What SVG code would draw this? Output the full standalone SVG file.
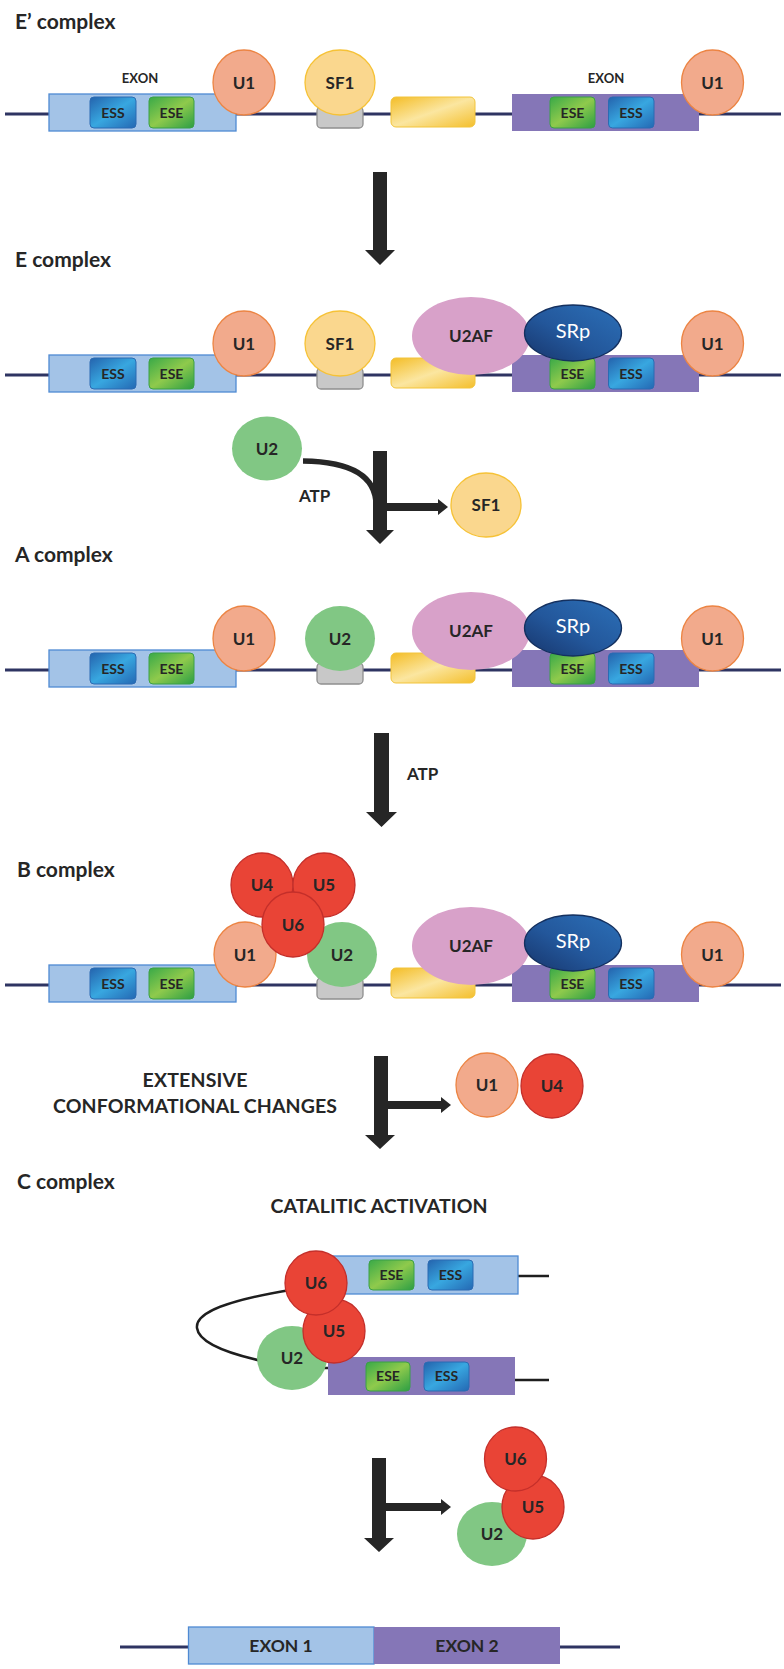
<svg xmlns="http://www.w3.org/2000/svg" width="784" height="1669" viewBox="0 0 784 1669">
<defs>
<linearGradient id="gEss" x1="0" y1="0" x2="1" y2="1">
<stop offset="0" stop-color="#2463ad"/><stop offset="0.5" stop-color="#38a7e0"/><stop offset="1" stop-color="#2468b3"/>
</linearGradient>
<linearGradient id="gEse" x1="0" y1="0" x2="1" y2="1">
<stop offset="0" stop-color="#39a948"/><stop offset="0.5" stop-color="#8fca4c"/><stop offset="1" stop-color="#2c9e44"/>
</linearGradient>
<linearGradient id="gYel" x1="0" y1="0" x2="1" y2="1">
<stop offset="0" stop-color="#f4bd26"/><stop offset="0.5" stop-color="#fbe6a0"/><stop offset="1" stop-color="#f4bf2c"/>
</linearGradient>
<linearGradient id="gSrp" x1="1" y1="0" x2="0" y2="1">
<stop offset="0" stop-color="#2c70b8"/><stop offset="0.55" stop-color="#23579b"/><stop offset="1" stop-color="#17356b"/>
</linearGradient>
<style>
.dna{stroke:#2e3462;stroke-width:3;fill:none}
.rna{stroke:#1e1e1e;stroke-width:2.5;fill:none}
.exonL{fill:#a3c3e7;stroke:#4f8ad3;stroke-width:1.3}
.exonR{fill:#8576b7}
.ess{fill:url(#gEss);stroke:#2b6bb3;stroke-width:1}
.ese{fill:url(#gEse);stroke:#3aa046;stroke-width:1}
.u1{fill:#f2aa8c;stroke:#ec8443;stroke-width:1.3}
.sf1{fill:#fad78e;stroke:#f6c236;stroke-width:1.3}
.gray{fill:#c8c8c8;stroke:#8f8f8f;stroke-width:1.3}
.yel{fill:url(#gYel);stroke:#f2c43c;stroke-width:1}
.u2{fill:#81c784}
.red{fill:#e94436;stroke:#c42f2a;stroke-width:1.3}
.u2af{fill:#d8a1c9}
.srp{fill:url(#gSrp);stroke:#14305f;stroke-width:1.3}
.arrow{fill:#262626}
.curve{stroke:#262626;stroke-width:5.5;fill:none}
text{font-family:Lato,"Liberation Sans",sans-serif;fill:#262626;font-weight:bold}
.title{font-size:21px}
.node{font-size:17px;text-anchor:middle}
.box{font-size:14px;text-anchor:middle}
.exlab{font-size:13px;text-anchor:middle}
.srpt{font-size:20px;text-anchor:middle;fill:#ffffff;font-weight:normal}
.lab{font-size:17px}
.big{font-size:19.5px;text-anchor:middle}
.fin{font-size:17.5px;text-anchor:middle}
</style>
</defs>
<rect width="784" height="1669" fill="#ffffff"/>

<!-- Titles -->
<g id="titles">
<text class="title" x="15" y="29">E’ complex</text>
<text class="title" x="15" y="267">E complex</text>
<text class="title" x="15" y="562">A complex</text>
<text class="title" x="17" y="877">B complex</text>
<text class="title" x="17" y="1189">C complex</text>
</g>

<!-- ROW 1: E' complex -->
<g id="row1">
<path class="dna" d="M5,114 H781"/>
<g id="r1-exon-left">
<rect class="exonL" x="49" y="94" width="187" height="37"/>
<rect class="ess" x="90" y="97" width="46" height="31" rx="4"/><text class="box" x="113" y="117.5">ESS</text>
<rect class="ese" x="149" y="97" width="45" height="31" rx="4"/><text class="box" x="171.5" y="117.5">ESE</text>
<text class="exlab" x="140" y="83">EXON</text>
</g>
<g id="r1-branch"><rect class="gray" x="317" y="107" width="46" height="21" rx="4"/></g>
<g id="r1-sf1"><ellipse class="sf1" cx="340" cy="82.5" rx="35" ry="32.5"/><text class="node" x="340" y="88.5">SF1</text></g>
<g id="r1-ppt"><rect class="yel" x="391" y="97" width="84" height="30" rx="5"/></g>
<g id="r1-exon-right">
<rect class="exonR" x="512" y="94" width="187" height="37"/>
<rect class="ese" x="550" y="97" width="45" height="31" rx="4"/><text class="box" x="572.5" y="117.5">ESE</text>
<rect class="ess" x="608.5" y="97" width="45.5" height="31" rx="4"/><text class="box" x="631" y="117.5">ESS</text>
<text class="exlab" x="606" y="83">EXON</text>
</g>
<g id="r1-u1-left"><ellipse class="u1" cx="244" cy="82.5" rx="31" ry="32.5"/><text class="node" x="244" y="88.5">U1</text></g>
<g id="r1-u1-right"><ellipse class="u1" cx="712.5" cy="82.5" rx="31" ry="32.5"/><text class="node" x="712.5" y="88.5">U1</text></g>
</g>

<!-- ROW 2: E complex -->
<g id="row2" transform="translate(0,261)">
<path class="dna" d="M5,114 H781"/>
<g id="r2-exon-left">
<rect class="exonL" x="49" y="94" width="187" height="37"/>
<rect class="ess" x="90" y="97" width="46" height="31" rx="4"/><text class="box" x="113" y="117.5">ESS</text>
<rect class="ese" x="149" y="97" width="45" height="31" rx="4"/><text class="box" x="171.5" y="117.5">ESE</text>
</g>
<g id="r2-branch"><rect class="gray" x="317" y="107" width="46" height="21" rx="4"/></g>
<g id="r2-sf1"><ellipse class="sf1" cx="340" cy="82.5" rx="35" ry="32.5"/><text class="node" x="340" y="88.5">SF1</text></g>
<g id="r2-ppt"><rect class="yel" x="391" y="97" width="84" height="30" rx="5"/></g>
<g id="r2-exon-right">
<rect class="exonR" x="512" y="94" width="187" height="37"/>
<rect class="ese" x="550" y="97" width="45" height="31" rx="4"/><text class="box" x="572.5" y="117.5">ESE</text>
<rect class="ess" x="608.5" y="97" width="45.5" height="31" rx="4"/><text class="box" x="631" y="117.5">ESS</text>
</g>
<g id="r2-u2af"><ellipse class="u2af" cx="471" cy="75" rx="59" ry="39"/><text class="node" x="471" y="81">U2AF</text></g>
<g id="r2-srp"><ellipse class="srp" cx="573" cy="72" rx="48.5" ry="28"/><text class="srpt" x="573" y="77">SRp</text></g>
<g id="r2-u1-left"><ellipse class="u1" cx="244" cy="82.5" rx="31" ry="32.5"/><text class="node" x="244" y="88.5">U1</text></g>
<g id="r2-u1-right"><ellipse class="u1" cx="712.5" cy="82.5" rx="31" ry="32.5"/><text class="node" x="712.5" y="88.5">U1</text></g>
</g>

<!-- Free U2 and released SF1 -->
<g id="free-u2"><ellipse class="u2" cx="267" cy="448.5" rx="35" ry="32"/><text class="node" x="267" y="454.5">U2</text></g>
<g id="released-sf1"><ellipse class="sf1" cx="486" cy="505" rx="35" ry="32"/><text class="node" x="486" y="511">SF1</text></g>

<!-- ROW 3: A complex -->
<g id="row3" transform="translate(0,556)">
<path class="dna" d="M5,114 H781"/>
<g id="r3-exon-left">
<rect class="exonL" x="49" y="94" width="187" height="37"/>
<rect class="ess" x="90" y="97" width="46" height="31" rx="4"/><text class="box" x="113" y="117.5">ESS</text>
<rect class="ese" x="149" y="97" width="45" height="31" rx="4"/><text class="box" x="171.5" y="117.5">ESE</text>
</g>
<g id="r3-branch"><rect class="gray" x="317" y="107" width="46" height="21" rx="4"/></g>
<g id="r3-u2"><ellipse class="u2" cx="340" cy="82.5" rx="35" ry="32.5"/><text class="node" x="340" y="88.5">U2</text></g>
<g id="r3-ppt"><rect class="yel" x="391" y="97" width="84" height="30" rx="5"/></g>
<g id="r3-exon-right">
<rect class="exonR" x="512" y="94" width="187" height="37"/>
<rect class="ese" x="550" y="97" width="45" height="31" rx="4"/><text class="box" x="572.5" y="117.5">ESE</text>
<rect class="ess" x="608.5" y="97" width="45.5" height="31" rx="4"/><text class="box" x="631" y="117.5">ESS</text>
</g>
<g id="r3-u2af"><ellipse class="u2af" cx="471" cy="75" rx="59" ry="39"/><text class="node" x="471" y="81">U2AF</text></g>
<g id="r3-srp"><ellipse class="srp" cx="573" cy="72" rx="48.5" ry="28"/><text class="srpt" x="573" y="77">SRp</text></g>
<g id="r3-u1-left"><ellipse class="u1" cx="244" cy="82.5" rx="31" ry="32.5"/><text class="node" x="244" y="88.5">U1</text></g>
<g id="r3-u1-right"><ellipse class="u1" cx="712.5" cy="82.5" rx="31" ry="32.5"/><text class="node" x="712.5" y="88.5">U1</text></g>
</g>

<!-- ROW 4: B complex -->
<g id="row4" transform="translate(0,871)">
<path class="dna" d="M5,114 H781"/>
<g id="r4-exon-left">
<rect class="exonL" x="49" y="94" width="187" height="37"/>
<rect class="ess" x="90" y="97" width="46" height="31" rx="4"/><text class="box" x="113" y="117.5">ESS</text>
<rect class="ese" x="149" y="97" width="45" height="31" rx="4"/><text class="box" x="171.5" y="117.5">ESE</text>
</g>
<g id="r4-branch"><rect class="gray" x="317" y="107" width="46" height="21" rx="4"/></g>
<g id="r4-ppt"><rect class="yel" x="391" y="97" width="84" height="30" rx="5"/></g>
<g id="r4-exon-right">
<rect class="exonR" x="512" y="94" width="187" height="37"/>
<rect class="ese" x="550" y="97" width="45" height="31" rx="4"/><text class="box" x="572.5" y="117.5">ESE</text>
<rect class="ess" x="608.5" y="97" width="45.5" height="31" rx="4"/><text class="box" x="631" y="117.5">ESS</text>
</g>
<g id="r4-u2af"><ellipse class="u2af" cx="471" cy="75" rx="59" ry="39"/><text class="node" x="471" y="81">U2AF</text></g>
<g id="r4-srp"><ellipse class="srp" cx="573" cy="72" rx="48.5" ry="28"/><text class="srpt" x="573" y="77">SRp</text></g>
<g id="r4-u1-left"><ellipse class="u1" cx="245" cy="83.5" rx="31" ry="32.5"/><text class="node" x="245" y="89.5">U1</text></g>
<g id="r4-u2"><ellipse class="u2" cx="342" cy="83.5" rx="35" ry="32.5"/><text class="node" x="342" y="89.5">U2</text></g>
<g id="r4-u4"><ellipse class="red" cx="262" cy="14" rx="31" ry="32"/><text class="node" x="262" y="20">U4</text></g>
<g id="r4-u5"><ellipse class="red" cx="324" cy="14" rx="31" ry="32"/><text class="node" x="324" y="20">U5</text></g>
<g id="r4-u6"><ellipse class="red" cx="293" cy="53.5" rx="31" ry="32.5"/><text class="node" x="293" y="59.5">U6</text></g>
<g id="r4-u1-right"><ellipse class="u1" cx="712.5" cy="83.5" rx="31" ry="32.5"/><text class="node" x="712.5" y="89.5">U1</text></g>
</g>

<!-- Released U1, U4 -->
<g id="released-u1"><ellipse class="u1" cx="487" cy="1085" rx="31" ry="32"/><text class="node" x="487" y="1091">U1</text></g>
<g id="released-u4"><ellipse class="red" cx="552" cy="1086" rx="31" ry="32"/><text class="node" x="552" y="1092">U4</text></g>

<!-- Labels -->
<g id="labels">
<text class="lab" x="299" y="502">ATP</text>
<text class="lab" x="407" y="780">ATP</text>
<text class="big" x="195" y="1087" textLength="105">EXTENSIVE</text>
<text class="big" x="195" y="1113" textLength="284">CONFORMATIONAL CHANGES</text>
<text class="big" x="379" y="1213" textLength="217">CATALITIC ACTIVATION</text>
</g>

<!-- C complex -->
<g id="c-complex">
<path class="rna" d="M290,1290 C230,1300 195,1312 197,1328 C199,1345 235,1355 262,1361"/>
<path class="rna" d="M318,1368 H331"/>
<path class="rna" d="M518,1276 H549"/>
<path class="rna" d="M515,1380 H549"/>
<g id="c-exon-top">
<rect class="exonL" x="330" y="1256" width="188" height="38"/>
<rect class="ese" x="369" y="1260" width="45" height="30" rx="4"/><text class="box" x="391.5" y="1280">ESE</text>
<rect class="ess" x="428" y="1260" width="45" height="30" rx="4"/><text class="box" x="450.5" y="1280">ESS</text>
</g>
<g id="c-exon-bottom">
<rect class="exonR" x="328" y="1357" width="187" height="38"/>
<rect class="ese" x="366" y="1362" width="44" height="29" rx="4"/><text class="box" x="388" y="1381">ESE</text>
<rect class="ess" x="424" y="1362" width="45" height="29" rx="4"/><text class="box" x="446.5" y="1381">ESS</text>
</g>
<g id="c-u2"><ellipse class="u2" cx="292" cy="1358" rx="35" ry="32"/><text class="node" x="292" y="1364">U2</text></g>
<g id="c-u5"><ellipse class="red" cx="334" cy="1331" rx="31" ry="32"/><text class="node" x="334" y="1337">U5</text></g>
<g id="c-u6"><ellipse class="red" cx="316" cy="1283" rx="31" ry="32"/><text class="node" x="316" y="1289">U6</text></g>
</g>

<!-- Released U2/U5/U6 -->
<g id="released-u2"><ellipse class="u2" cx="492" cy="1534" rx="35" ry="32"/><text class="node" x="492" y="1540">U2</text></g>
<g id="released-u5"><ellipse class="red" cx="533" cy="1507" rx="31" ry="32"/><text class="node" x="533" y="1513">U5</text></g>
<g id="released-u6"><ellipse class="red" cx="515.5" cy="1459" rx="31" ry="32"/><text class="node" x="515.5" y="1465">U6</text></g>

<!-- Final spliced mRNA -->
<g id="mrna">
<path class="dna" d="M120,1647 H620"/>
<g id="exon1"><rect class="exonL" x="188.5" y="1627" width="185.5" height="37"/><text class="fin" x="281" y="1652">EXON 1</text></g>
<g id="exon2"><rect class="exonR" x="374" y="1627" width="186" height="37"/><text class="fin" x="467" y="1652">EXON 2</text></g>
</g>

<!-- Connectors -->
<g id="connectors">
<path class="arrow" d="M373,172 H387 V250 H395 L380,265 L365,250 H373 Z"/>
<path class="curve" d="M303,461 Q376,462 376,505"/>
<path class="arrow" d="M373,451 H387 V530 H394 L380,544 L366,530 H373 Z"/>
<path class="arrow" d="M387,503 H438 V499 L448,507 L438,515 V511 H387 Z"/>
<path class="arrow" d="M374,733 H389 V812 H397 L381.5,827 L366,812 H374 Z"/>
<path class="arrow" d="M374,1056 H388 V1135 H395 L380,1149 L365,1135 H374 Z"/>
<path class="arrow" d="M388,1101 H441 V1097 L451,1105 L441,1113 V1109 H388 Z"/>
<path class="arrow" d="M372,1458 H386 V1538 H394 L379,1552 L364,1538 H372 Z"/>
<path class="arrow" d="M386,1503 H441 V1499 L451,1507 L441,1515 V1511 H386 Z"/>
</g>
</svg>
